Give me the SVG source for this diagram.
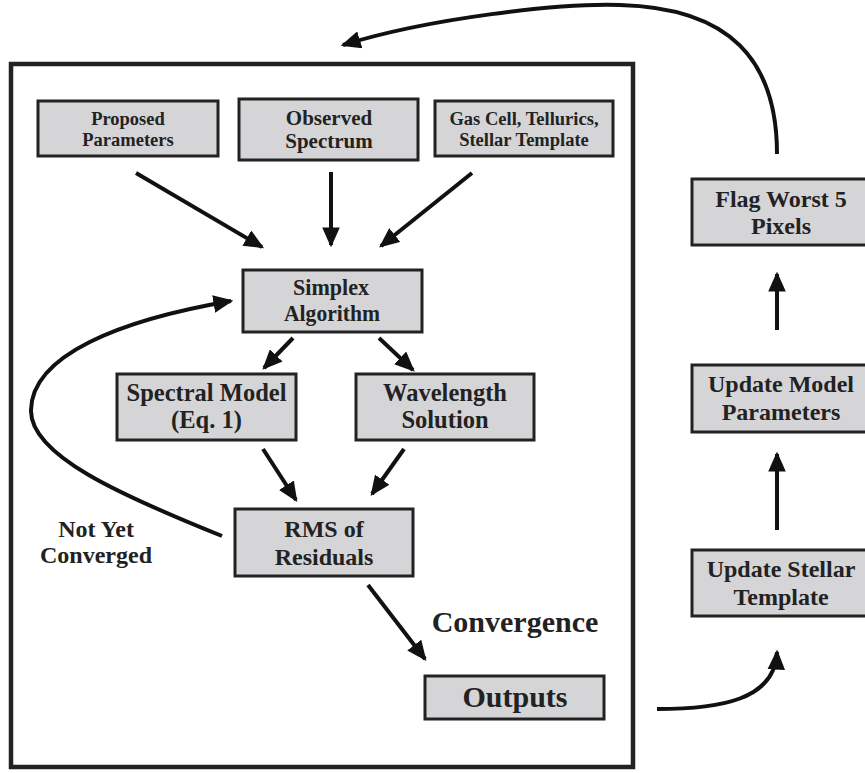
<svg xmlns="http://www.w3.org/2000/svg" width="865" height="773" viewBox="0 0 865 773">
<style>
.box{fill:#d5d5d7;stroke:#222;stroke-width:3}
.t{font-family:"Liberation Serif","Times New Roman",serif;font-weight:bold;fill:#222;text-anchor:middle}
.s{font-size:18.5px}
.o{font-size:21px}
.m{font-size:24px}
.l{font-size:24.5px}
.r{font-size:24px}
.x{font-size:30px}
.c{fill:none;stroke:#111;stroke-width:4}
</style>
<defs>
<marker id="ah" markerWidth="5" markerHeight="4.4" refX="4.4" refY="2.2" orient="auto" markerUnits="strokeWidth">
<path d="M0,0 L5,2.2 L0,4.4 Z" fill="#111"/>
</marker>
</defs>
<rect x="11" y="64" width="622" height="703" fill="none" stroke="#222" stroke-width="4.5"/>
<g id="proposed"><rect class="box" x="38" y="101" width="180" height="55"/><text class="t s" x="128" y="125">Proposed</text><text class="t s" x="128" y="146">Parameters</text></g>
<g id="observed"><rect class="box" x="239" y="99" width="179" height="61"/><text class="t o" x="329" y="125">Observed</text><text class="t o" x="329" y="148">Spectrum</text></g>
<g id="gascell"><rect class="box" x="435" y="101" width="178" height="55"/><text class="t s" x="524" y="125">Gas Cell, Tellurics,</text><text class="t s" x="524" y="146">Stellar Template</text></g>
<g id="simplex"><rect class="box" x="243" y="270" width="179" height="62"/><text class="t m" x="331" y="295" textLength="76" lengthAdjust="spacingAndGlyphs">Simplex</text><text class="t m" x="332" y="321" textLength="96" lengthAdjust="spacingAndGlyphs">Algorithm</text></g>
<g id="spectral"><rect class="box" x="117" y="374" width="179" height="66"/><text class="t l" x="206.5" y="401">Spectral Model</text><text class="t l" x="206.5" y="428">(Eq. 1)</text></g>
<g id="wavelength"><rect class="box" x="356" y="374" width="178" height="66"/><text class="t l" x="445" y="401">Wavelength</text><text class="t l" x="445" y="428">Solution</text></g>
<g id="rms"><rect class="box" x="235" y="509" width="178" height="67"/><text class="t r" x="324" y="537">RMS of</text><text class="t r" x="324" y="565">Residuals</text></g>
<g id="outputs"><rect class="box" x="425" y="676" width="179" height="43"/><text class="t x" x="515" y="707">Outputs</text></g>
<g id="flag"><rect class="box" x="692" y="179" width="176" height="66"/><text class="t r" x="781" y="207">Flag Worst 5</text><text class="t r" x="781" y="234">Pixels</text></g>
<g id="updmodel"><rect class="box" x="692" y="365" width="176" height="67"/><text class="t r" x="781" y="392">Update Model</text><text class="t r" x="781" y="420">Parameters</text></g>
<g id="updstellar"><rect class="box" x="692" y="550" width="176" height="66"/><text class="t r" x="781" y="577">Update Stellar</text><text class="t r" x="781" y="605">Template</text></g>
<g id="labels">
<text class="t r" x="96" y="537">Not Yet</text>
<text class="t r" x="96" y="563">Converged</text>
<text class="t x" x="515" y="632">Convergence</text>
</g>
<g id="connectors">
<path class="c" d="M136,173 L262,247" marker-end="url(#ah)"/>
<path class="c" d="M331,172 L331,245" marker-end="url(#ah)"/>
<path class="c" d="M472,173 L381,246" marker-end="url(#ah)"/>
<path class="c" d="M293,338 L264,368" marker-end="url(#ah)"/>
<path class="c" d="M379,338 L413,370" marker-end="url(#ah)"/>
<path class="c" d="M263,449 L296,500" marker-end="url(#ah)"/>
<path class="c" d="M404,449 L372,494" marker-end="url(#ah)"/>
<path class="c" d="M368,585 L425,659" marker-end="url(#ah)"/>
<path class="c" d="M222,536 C120,495 30,455 31,410 C32,355 120,320 231,301" marker-end="url(#ah)"/>
<path class="c" d="M657,709 C720,709 775,700 777,652" marker-end="url(#ah)"/>
<path class="c" d="M777,330 L777,274" marker-end="url(#ah)"/>
<path class="c" d="M777,530 L777,454" marker-end="url(#ah)"/>
<path class="c" d="M777,154 C777,60 730,8 620,5 C560,3 430,18 343,45" marker-end="url(#ah)"/>
</g>
</svg>
